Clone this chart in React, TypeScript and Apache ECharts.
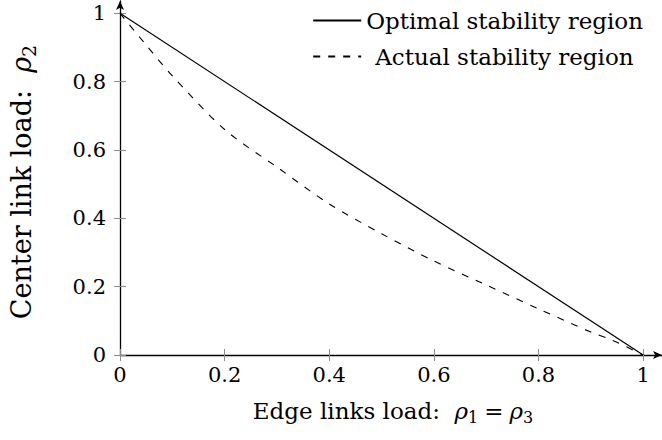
import React, { useEffect, useRef } from "react";
import * as echarts from "echarts";

const seriesNames = ["Optimal stability region", "Actual stability region"];
const optimalX = [0, 1];
const optimalY = [1, 0];
const actualX = [0, 0.05, 0.1, 0.2, 0.3, 0.4, 0.5, 0.6, 0.7, 0.8, 0.9, 0.94, 1];
const actualY = [1, 0.907, 0.817, 0.66, 0.55, 0.442, 0.355, 0.275, 0.205, 0.135, 0.067, 0.044, 0];
const xTicks = [0, 0.2, 0.4, 0.6, 0.8, 1];
const yTicks = [0, 0.2, 0.4, 0.6, 0.8, 1];

const FONT = "'DejaVu Serif', serif";
const FS = 23;
const YFS = 27;
const TICK_FS = 21;

export default function App() {
  const ref = useRef<HTMLDivElement>(null);
  useEffect(() => {
    if (!ref.current) return;
    const chart = echarts.init(ref.current, null, { renderer: "svg" });
    const tickStyle = { color: "#8c8c8c", width: 1 };
    const tickLabelStyle = { fontFamily: FONT, fontSize: TICK_FS, color: "#000" };
    const titleStyle = { fontFamily: FONT, fontSize: FS, color: "#000" };
    const richX = {
      i: { fontFamily: FONT, fontSize: FS, fontStyle: "italic", color: "#000" },
      s: { fontFamily: FONT, fontSize: 16, color: "#000", padding: [12, 0, 0, 0] },
      g: { fontFamily: FONT, fontSize: FS, color: "#000", padding: [0, 6, 0, 6] },
    };
    const richY = {
      i: { fontFamily: FONT, fontSize: YFS, fontStyle: "italic", color: "#000" },
      s: { fontFamily: FONT, fontSize: 19, color: "#000", padding: [14, 0, 0, 0] },
    };
    chart.setOption({
      animation: false,
      backgroundColor: "#fff",
      grid: { left: 119, right: 0, top: 1, bottom: 85, containLabel: false },
      legend: {
        orient: "vertical",
        right: 14,
        top: 4,
        itemWidth: 48,
        itemHeight: 14,
        itemGap: 13,
        itemStyle: { opacity: 0 },
        textStyle: titleStyle,
        data: [
          { name: seriesNames[0] },
          { name: seriesNames[1], textStyle: { padding: [0, 0, 0, 9] } },
        ],
      },
      xAxis: [
        {
          type: "value",
          min: 0,
          max: 1.036,
          axisLine: {
            show: true,
            onZero: false,
            lineStyle: { color: "#000", width: 1.3 },
            symbol: ["none", "arrow"],
            symbolSize: [6, 9],
          },
          axisTick: { show: true, customValues: xTicks, length: 6, lineStyle: tickStyle },
          axisLabel: { customValues: xTicks, margin: 9, ...tickLabelStyle },
          splitLine: { show: false },
          name: "Edge links load:  {i|ρ}{s|1}{g|=}{i|ρ}{s|3}",
          nameLocation: "middle",
          nameGap: 42,
          nameTextStyle: { ...titleStyle, rich: richX, padding: [0, 0, 0, 4] },
        },
        {
          type: "value",
          min: 0,
          max: 1.036,
          position: "bottom",
          axisLine: { show: false },
          axisTick: { show: true, inside: true, customValues: xTicks, length: 6, lineStyle: tickStyle },
          axisLabel: { show: false },
          splitLine: { show: false },
        },
      ],
      yAxis: [
        {
          type: "value",
          min: 0,
          max: 1.036,
          axisLine: {
            show: true,
            onZero: false,
            lineStyle: { color: "#000", width: 1.3 },
            symbol: ["none", "arrow"],
            symbolSize: [6, 9],
          },
          axisTick: { show: true, customValues: yTicks, length: 6, lineStyle: tickStyle },
          axisLabel: { customValues: yTicks, margin: 14, ...tickLabelStyle },
          splitLine: { show: false },
          name: "Center link load:  {i|ρ}{s|2}",
          nameLocation: "middle",
          nameGap: 82,
          nameRotate: 90,
          nameTextStyle: { fontFamily: FONT, fontSize: YFS, color: "#000", rich: richY, padding: [0, 8, 0, 0] },
        },
        {
          type: "value",
          min: 0,
          max: 1.036,
          position: "left",
          axisLine: { show: false },
          axisTick: { show: true, inside: true, customValues: yTicks, length: 6, lineStyle: tickStyle },
          axisLabel: { show: false },
          splitLine: { show: false },
        },
      ],
      series: [
        {
          name: seriesNames[0],
          type: "line",
          symbol: "none",
          data: optimalX.map((x, i) => [x, optimalY[i]]),
          lineStyle: { color: "#000", width: 1.2, type: "solid" },
          itemStyle: { color: "#000" },
        },
        {
          name: seriesNames[1],
          type: "line",
          symbol: "none",
          smooth: 0.3,
          data: actualX.map((x, i) => [x, actualY[i]]),
          lineStyle: { color: "#000", width: 1.1, type: [7, 8] },
          itemStyle: { color: "#000" },
        },
      ],
    });
    return () => chart.dispose();
  }, []);
  return <div ref={ref} style={{ width: 662, height: 440, position: "absolute", left: 0, top: 0 }} />;
}
